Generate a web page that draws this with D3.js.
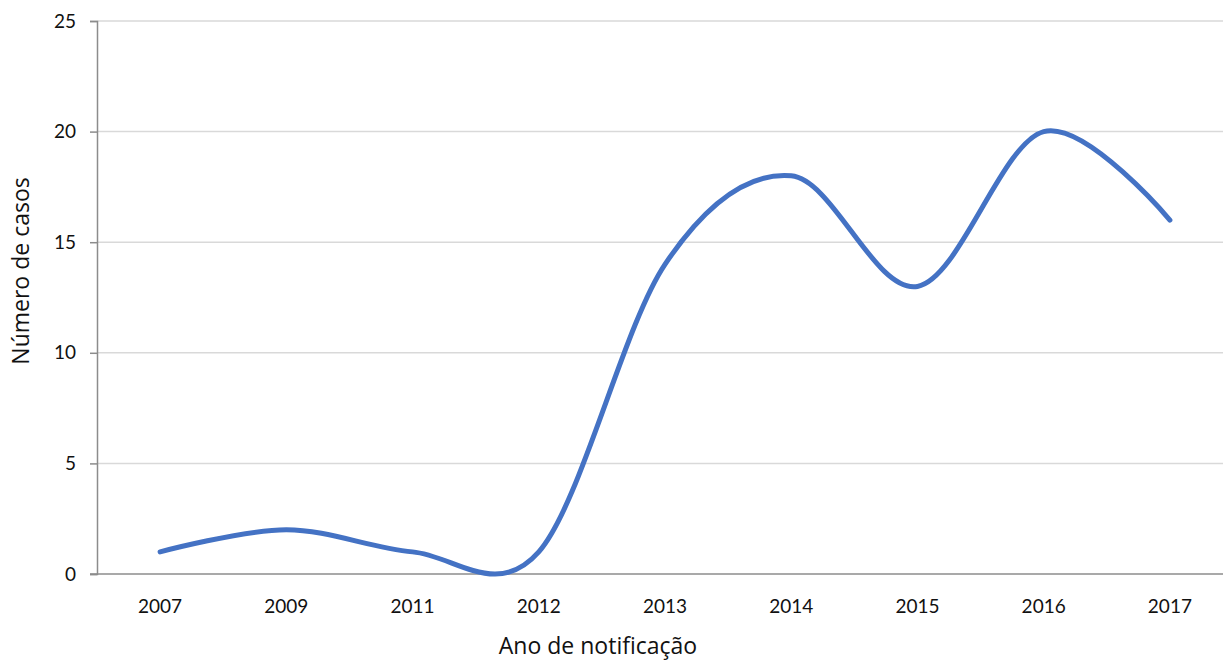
<!DOCTYPE html>
<html><head><meta charset="utf-8">
<script src="https://cdn.jsdelivr.net/npm/d3@7"></script>
<style>body{margin:0;background:#fff}svg{display:block}</style>
</head><body>
<svg id="c" width="1223" height="664"></svg>
<script>
const categories = ["2007","2009","2011","2012","2013","2014","2015","2016","2017"];
const values = [1,2,1,1,14,18,13,20,16];
const yTicks = [0,5,10,15,20,25];

const svg = d3.select("#c");
const x = d3.scaleBand().domain(categories).range([97, 1233]);
const y = d3.scaleLinear().domain([0,25]).range([574, 21]);
const cx = d => x(d) + x.bandwidth()/2;

// gridlines
svg.append("g").selectAll("line").data(yTicks.filter(t=>t>0)).join("line")
  .attr("x1",97).attr("x2",1233).attr("y1",d=>y(d)).attr("y2",d=>y(d))
  .attr("stroke","#d9d9d9").attr("stroke-width",1.5);

// y axis
const ya = svg.append("g").attr("transform","translate(97,0)")
  .call(d3.axisLeft(y).tickValues(yTicks).tickSize(7).tickPadding(14));
ya.select(".domain").attr("stroke","#8c8c8c").attr("stroke-width",1.5);
ya.selectAll(".tick line").attr("stroke","#8c8c8c").attr("stroke-width",1.5);
ya.selectAll("text").attr("font-family","Lato, 'Open Sans', sans-serif").attr("font-size",19).attr("fill","#111");

// x axis
const xa = svg.append("g").attr("transform","translate(0,574)")
  .call(d3.axisBottom(x).tickSize(0).tickPadding(26));
xa.select(".domain").remove();
xa.selectAll("text").attr("font-family","Lato, 'Open Sans', sans-serif").attr("font-size",19).attr("fill","#111");
svg.append("line").attr("x1",90).attr("x2",1233).attr("y1",574).attr("y2",574)
  .attr("stroke","#8c8c8c").attr("stroke-width",1.5);

// line
const line = d3.line().x((d,i)=>cx(categories[i])).y(d=>y(d)).curve(d3.curveCardinal.tension(0));
svg.append("path").datum(values).attr("d",line)
  .attr("fill","none").attr("stroke","#4472c4").attr("stroke-width",5)
  .attr("stroke-linecap","round").attr("stroke-linejoin","round");

// titles
svg.append("text").attr("x",598).attr("y",654).attr("text-anchor","middle")
  .attr("font-family","'Open Sans', sans-serif").attr("font-size",23).attr("fill","#111")
  .text("Ano de notificação");
svg.append("text").attr("transform","translate(29,271) rotate(-90)").attr("text-anchor","middle")
  .attr("font-family","'Open Sans', sans-serif").attr("font-size",23).attr("fill","#111")
  .text("Número de casos");
</script>
</body></html>
